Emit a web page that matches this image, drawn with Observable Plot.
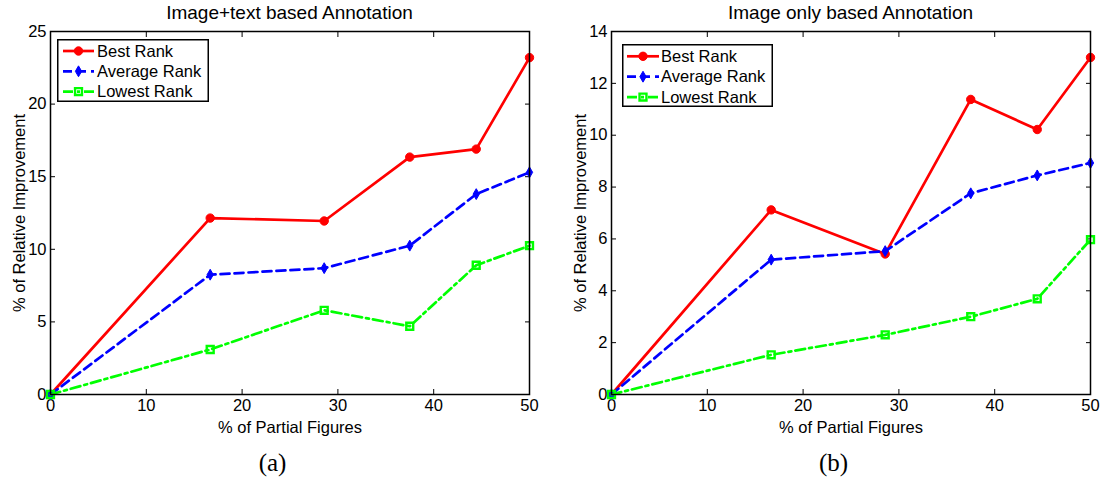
<!DOCTYPE html>
<html>
<head>
<meta charset="utf-8">
<script src="https://cdn.jsdelivr.net/npm/d3@7"></script>
<script src="https://cdn.jsdelivr.net/npm/@observablehq/plot@0.6"></script>
<style>
  body { margin: 0; background: #fff; }
  #root { position: relative; width: 1102px; height: 489px; overflow: hidden;
          font-family: "Liberation Sans", Arial, sans-serif; color: #000; }
  .panel { position: absolute; top: 0; width: 551px; height: 489px; }
  .panel svg.chart { position: absolute; left: 0; top: 0; overflow: visible; }
  .title { position: absolute; top: 1px; font-size: 19px; line-height: 24px; white-space: nowrap; transform: translateX(-50%); }
  .caption { position: absolute; top: 449px; font-family: "Liberation Serif", "DejaVu Serif", serif;
             font-size: 25px; transform: translateX(-50%); }
  .legend { position: absolute; overflow: visible; }
</style>
</head>
<body>
<div id="root"></div>
<script>
// Share of partial figures (x axis, %)
const partialFigures = [0, 16.67, 28.57, 37.5, 44.44, 50];
const seriesNames = ["Best Rank", "Average Rank", "Lowest Rank"];
const xTicks = [0, 10, 20, 30, 40, 50];

// (a) Image+text based annotation: relative improvement (%)
const textBest    = [0, 12.15, 11.95, 16.35, 16.9, 23.2];
const textAverage = [0, 8.25, 8.7, 10.25, 13.8, 15.3];
const textLowest  = [0, 3.1, 5.8, 4.7, 8.9, 10.25];
const textYTicks  = [0, 5, 10, 15, 20, 25];

// (b) Image only based annotation: relative improvement (%)
const imageBest    = [0, 7.12, 5.42, 11.38, 10.22, 13.0];
const imageAverage = [0, 5.2, 5.53, 7.76, 8.45, 8.93];
const imageLowest  = [0, 1.53, 2.3, 3.0, 3.69, 5.97];
const imageYTicks  = [0, 2, 4, 6, 8, 10, 12, 14];

// Line and marker styling per series
const styles = {
  "Best Rank":    {color: "#ff0000", dash: null,       symbol: "circle",  r: 4.2, fill: "#ff0000"},
  "Average Rank": {color: "#0000ff", dash: "9,5",      symbol: "diamond", r: 3.3, fill: "#0000ff"},
  "Lowest Rank":  {color: "#00ff00", dash: "10,4,3,4", symbol: "square",  r: 3.9, fill: "none"}
};

const FONT = "Liberation Sans, Arial, sans-serif";
const FONT_SIZE = 16.5;

function makePanel({left, title, caption, series, yTicks, marginLeft, marginRight, legend}) {
  const panel = document.createElement("div");
  panel.className = "panel";
  panel.style.left = left + "px";
  document.getElementById("root").appendChild(panel);

  const rows = seriesNames.flatMap((name, i) =>
    partialFigures.map((x, j) => ({series: name, x, y: series[i][j]})));

  const lineMarks = seriesNames.flatMap(name => {
    const s = styles[name];
    const data = rows.filter(d => d.series === name);
    return [
      Plot.line(data, {x: "x", y: "y", stroke: s.color, strokeWidth: 2.7,
                       strokeDasharray: s.dash, strokeLinejoin: "round"}),
      Plot.dot(data, {x: "x", y: "y", symbol: s.symbol, r: s.r, fill: s.fill,
                      stroke: s.color, strokeWidth: s.fill === "none" ? 2.4 : 1})
    ];
  });

  const chart = Plot.plot({
    width: 551,
    height: 440,
    marginLeft,
    marginRight,
    marginTop: 31,
    marginBottom: 46,
    style: {fontFamily: FONT, fontSize: FONT_SIZE + "px", color: "#000", background: "transparent", overflow: "visible"},
    x: {domain: [0, 50]},
    y: {domain: [0, yTicks[yTicks.length - 1]]},
    marks: [
      Plot.axisX({anchor: "bottom", ticks: xTicks, tickSize: -5, tickPadding: 10, stroke: "#000",
                  label: "% of Partial Figures", labelAnchor: "center", labelOffset: 38, labelArrow: "none"}),
      Plot.axisX({anchor: "top", ticks: xTicks, tickSize: -5, tickFormat: () => "", label: null, stroke: "#000"}),
      Plot.axisY({anchor: "left", ticks: yTicks, tickSize: -5, tickPadding: 9, stroke: "#000",
                  label: "% of Relative Improvement", labelAnchor: "center", labelOffset: 37, labelArrow: "none"}),
      Plot.axisY({anchor: "right", ticks: yTicks, tickSize: -5, tickFormat: () => "", label: null, stroke: "#000"}),
      ...lineMarks,
      Plot.frame({stroke: "#000", strokeWidth: 1.5})
    ]
  });
  chart.classList.add("chart");
  panel.appendChild(chart);

  const plotCenter = marginLeft + (551 - marginLeft - marginRight) / 2;

  const t = document.createElement("div");
  t.className = "title";
  t.style.left = plotCenter + "px";
  t.textContent = title;
  panel.appendChild(t);

  const c = document.createElement("div");
  c.className = "caption";
  c.style.left = (plotCenter - 17) + "px";
  c.textContent = caption;
  panel.appendChild(c);

  // Legend box in the upper-left corner of the axes
  const lg = d3.select(panel).append("svg")
    .attr("class", "legend")
    .attr("width", legend.w).attr("height", legend.h)
    .style("left", legend.x + "px").style("top", legend.y + "px");
  lg.append("rect").attr("x", 0.75).attr("y", 0.75)
    .attr("width", legend.w - 1.5).attr("height", legend.h - 1.5)
    .attr("fill", "#fff").attr("stroke", "#000").attr("stroke-width", 1.5);
  seriesNames.forEach((name, i) => {
    const s = styles[name];
    const cy = legend.row0 + i * legend.rowStep;
    lg.append("line").attr("x1", legend.sx0).attr("x2", legend.sx1)
      .attr("y1", cy).attr("y2", cy)
      .attr("stroke", s.color).attr("stroke-width", 2.7)
      .attr("stroke-dasharray", s.dash);
    const sym = {circle: d3.symbolCircle, diamond: d3.symbolDiamond, square: d3.symbolSquare}[s.symbol];
    lg.append("path")
      .attr("d", d3.symbol(sym, Math.PI * s.r * s.r)())
      .attr("transform", `translate(${(legend.sx0 + legend.sx1) / 2},${cy})`)
      .attr("fill", s.fill).attr("stroke", s.color)
      .attr("stroke-width", s.fill === "none" ? 2.4 : 1);
    lg.append("text").attr("x", legend.tx).attr("y", cy).attr("dy", "0.35em")
      .attr("font-family", FONT).attr("font-size", FONT_SIZE).text(name);
  });
}

makePanel({
  left: 0,
  title: "Image+text based Annotation",
  caption: "(a)",
  series: [textBest, textAverage, textLowest],
  yTicks: textYTicks,
  marginLeft: 50,
  marginRight: 22,
  legend: {x: 57, y: 39, w: 152, h: 63, row0: 12, rowStep: 20.3, sx0: 6, sx1: 37, tx: 40}
});

makePanel({
  left: 551,
  title: "Image only based Annotation",
  caption: "(b)",
  series: [imageBest, imageAverage, imageLowest],
  yTicks: imageYTicks,
  marginLeft: 60,
  marginRight: 12,
  legend: {x: 71, y: 44, w: 151, h: 63, row0: 12.3, rowStep: 20.4, sx0: 5, sx1: 37, tx: 39}
});
</script>
</body>
</html>
